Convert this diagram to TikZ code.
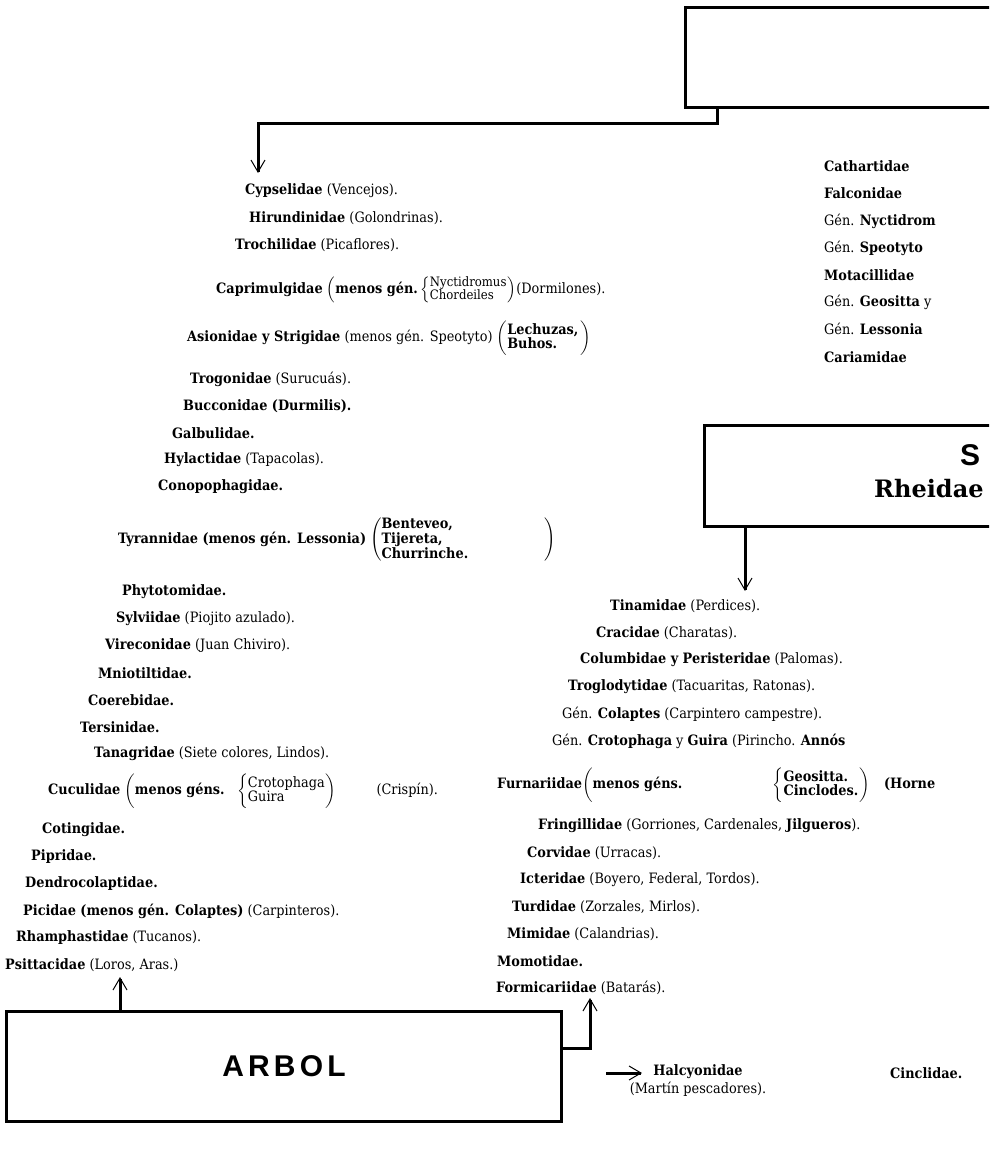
\documentclass[tikz,border=0pt]{standalone}
\usepackage{fontspec}
\usepackage{amsmath}
\setmainfont[FakeStretch=0.9]{DejaVu Serif}
\newfontfamily\boxserif{DejaVu Serif}
\newfontfamily\boxsans[LetterSpace=14]{Liberation Sans}
\newfontfamily\boxsansS{Liberation Sans}
\usetikzlibrary{arrows.meta,positioning}

\newcommand{\twoup}[2]{\mbox{\fontsize{14.3}{13}\selectfont\begin{tabular}{@{}l@{}}#1\\#2\end{tabular}}}
\newcommand{\twoupsm}[2]{\mbox{\fontsize{13}{12.5}\selectfont\begin{tabular}{@{}l@{}}#1\\#2\end{tabular}}}
\newcommand{\threeup}[3]{\mbox{\fontsize{14.3}{13}\selectfont\begin{tabular}{@{}l@{}}#1\\#2\\#3\end{tabular}}}

\begin{document}
\begin{tikzpicture}[x=1pt,y=-1pt,
  fam/.style={anchor=west,inner sep=0pt,font=\fontsize{14.3}{15}\selectfont},
  habitat/.style={draw,line width=3pt,inner sep=0pt},
  link/.style={line width=3pt,-{Straight Barb[length=12pt,width=14pt,line width=1pt]}}]
\useasboundingbox (0,0) rectangle (989,1154);
\clip (0,0) rectangle (989,1154);

% boxes
\node[habitat,anchor=north west,minimum width=500pt,minimum height=100pt] (boxtop) at (684,6) {};
\node[habitat,anchor=north west,minimum width=500pt,minimum height=101pt] (suelo) at (703,424) {};
\node[anchor=west,inner sep=0pt,font=\boxsansS\bfseries\fontsize{30}{30}\selectfont] (suelotitle) at (960,455) {S};
\node[anchor=west,inner sep=0pt,font=\boxserif\bfseries\fontsize{24}{24}\selectfont] (rheidae) at (874,489) {Rheidae};
\node[habitat,anchor=north west,minimum width=555pt,minimum height=110pt,
  font=\boxsans\bfseries\fontsize{30}{30}\selectfont] (arbol) at (5,1010) {ARBOL};

% left column
\node[fam] (cyps) at (245,191) {\textbf{Cypselidae} (Vencejos).};
\node[fam] (hirund) at (249,218) {\textbf{Hirundinidae} (Golondrinas).};
\node[fam] (troch) at (235,245) {\textbf{Trochilidae} (Picaflores).};
\node[fam] (caprim) at (216,290) {\textbf{Caprimulgidae} $\left(\text{\bfseries menos gén.}\left\{\twoupsm{Nyctidromus}{Chordeiles}\right.\right)$(Dormilones).};
\node[fam] (asion) at (187,338) {\textbf{Asionidae y Strigidae} (menos gén. Speotyto) $\left(\twoup{\bfseries Lechuzas,}{\bfseries Buhos.}\,\right)$};
\node[fam] (trogon) at (190,379) {\textbf{Trogonidae} (Surucuás).};
\node[fam] (buccon) at (183,406) {\textbf{Bucconidae (Durmilis).}};
\node[fam] (galbul) at (172,433) {\textbf{Galbulidae.}};
\node[fam] (hylact) at (164,460) {\textbf{Hylactidae} (Tapacolas).};
\node[fam] (conopo) at (158,487) {\textbf{Conopophagidae.}};
\node[fam] (tyrann) at (118,540) {\textbf{Tyrannidae (menos gén. Lessonia)} $\left(\threeup{\bfseries Benteveo,}{\bfseries Tijereta,}{\bfseries Churrinche.}\hspace{76pt}\right)$};
\node[fam] (phyto) at (122,592) {\textbf{Phytotomidae.}};
\node[fam] (sylvi) at (116,619) {\textbf{Sylviidae} (Piojito azulado).};
\node[fam] (vireo) at (105,646) {\textbf{Vireconidae} (Juan Chiviro).};
\node[fam] (mnio) at (98,673) {\textbf{Mniotiltidae.}};
\node[fam] (coereb) at (88,700) {\textbf{Coerebidae.}};
\node[fam] (tersin) at (80,727) {\textbf{Tersinidae.}};
\node[fam] (tanag) at (94,754) {\textbf{Tanagridae} (Siete colores, Lindos).};
\node[fam] (cucul) at (48,791) {\textbf{Cuculidae} $\left(\text{\bfseries menos géns.}\hspace{10pt}\left\{\twoup{Crotophaga}{Guira}\right.\right)$\hspace{40pt}(Crispín).};
\node[fam] (coting) at (42,830) {\textbf{Cotingidae.}};
\node[fam] (piprid) at (31,857) {\textbf{Pipridae.}};
\node[fam] (dendro) at (25,884) {\textbf{Dendrocolaptidae.}};
\node[fam] (picid) at (23,911) {\textbf{Picidae (menos gén. Colaptes)} (Carpinteros).};
\node[fam] (rhamph) at (16,938) {\textbf{Rhamphastidae} (Tucanos).};
\node[fam] (psitt) at (5,965) {\textbf{Psittacidae} (Loros, Aras.)};

% middle column
\node[fam] (tinam) at (610,606) {\textbf{Tinamidae} (Perdices).};
\node[fam] (cracid) at (596,633) {\textbf{Cracidae} (Charatas).};
\node[fam] (columb) at (580,660) {\textbf{Columbidae y Peristeridae} (Palomas).};
\node[fam] (troglo) at (568,687) {\textbf{Troglodytidae} (Tacuaritas, Ratonas).};
\node[fam] (colapt) at (562,714) {Gén. \textbf{Colaptes} (Carpintero campestre).};
\node[fam] (crotop) at (552,741) {Gén. \textbf{Crotophaga} y \textbf{Guira} (Pirincho. \textbf{Annós}};
\node[fam] (furnar) at (497,785) {\textbf{Furnariidae}$\left(\text{\bfseries menos géns.}\hspace{88pt}\left\{\twoup{\bfseries Geositta.}{\bfseries Cinclodes.}\right.\right)$\hspace{14pt}\textbf{(Horne}};
\node[fam] (fringi) at (538,826) {\textbf{Fringillidae} (Gorriones, Cardenales, \textbf{Jilgueros}).};
\node[fam] (corvid) at (527,853) {\textbf{Corvidae} (Urracas).};
\node[fam] (icter) at (520,880) {\textbf{Icteridae} (Boyero, Federal, Tordos).};
\node[fam] (turdid) at (512,907) {\textbf{Turdidae} (Zorzales, Mirlos).};
\node[fam] (mimid) at (507,934) {\textbf{Mimidae} (Calandrias).};
\node[fam] (momot) at (497,961) {\textbf{Momotidae.}};
\node[fam] (formic) at (496,988) {\textbf{Formicariidae} (Batarás).};

% right column
\node[fam] (cathar) at (824,166) {\textbf{Cathartidae}};
\node[fam] (falcon) at (824,193) {\textbf{Falconidae}};
\node[fam] (nyctid) at (824,221) {Gén. \textbf{Nyctidrom}};
\node[fam] (speot) at (824,248) {Gén. \textbf{Speotyto}};
\node[fam] (motac) at (824,275) {\textbf{Motacillidae}};
\node[fam] (geosit) at (824,302) {Gén. \textbf{Geositta} y};
\node[fam] (lesson) at (824,329) {Gén. \textbf{Lessonia}};
\node[fam] (cariam) at (824,357) {\textbf{Cariamidae}};

% bottom
\node[fam,anchor=north,align=center] (halcy) at (698,1064) {\textbf{Halcyonidae}\\[3pt](Martín pescadores).};
\node[fam] (cinclid) at (890,1073) {\textbf{Cinclidae.}};

% connectors
\coordinate (cypstip) at (258,173);
\coordinate (tinamtip) at (745,591);
\coordinate (psitttip) at (120,977);
\coordinate (formictip) at (590,998);
\coordinate (halcystart) at (606,1073);
\coordinate (halcytip) at (642,1073);
\draw[link] (717,0 |- boxtop.south) -- (717,123) -| (cypstip);
\draw[link] (745,0 |- suelo.south) -- (tinamtip);
\draw[link] (120,0 |- arbol.north) -- (psitttip);
\draw[link] (arbol.east |- 0,1048) -| (formictip);
\draw[link] (halcystart) -- (halcytip);
\end{tikzpicture}
\end{document}
